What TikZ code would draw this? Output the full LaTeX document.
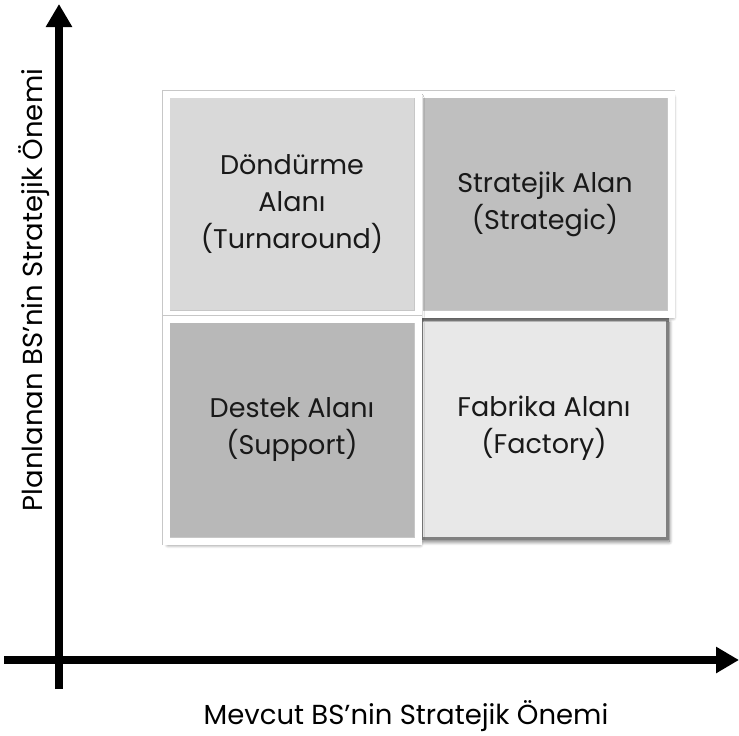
\documentclass[tikz,border=0pt]{standalone}
\usepackage{fontspec}
\setmainfont{Poppins}
\usetikzlibrary{shadows.blur,arrows.meta}
\tikzstyle{area}=[rectangle, draw=black!22, line width=0.7pt, double=white, double distance=7pt, align=center, text=black!90, font=\fontsize{27}{37}\selectfont, blur shadow={shadow blur steps=8, shadow xshift=2pt, shadow yshift=-3.5pt, shadow opacity=60, shadow blur radius=4pt}]
\tikzstyle{axis}=[-{Triangle[length=23pt,width=25pt]}, line width=8pt, draw=black]
\tikzstyle{axislabel}=[font=\fontsize{27.5}{30}\selectfont, text=black]

\begin{document}
\begin{tikzpicture}[x=1pt,y=-1pt]
    \useasboundingbox (0,0) rectangle (739,736);
    % axes
    \coordinate (xstart) at (4,660);
    \coordinate (xend) at (739,660);
    \coordinate (ystart) at (59,689);
    \coordinate (yend) at (59,4);
    \draw [style=axis] (xstart) to (xend);
    \draw [style=axis] (ystart) to (yend);
    \node [style=axislabel] (xlabel) at (406,716) {Mevcut BS’nin Stratejik Önemi};
    \node [style=axislabel, rotate=90] (ylabel) at (34,290) {Planlanan BS’nin Stratejik Önemi};
    % the four areas
    \node [style=area, fill=black!9, draw=black!50, double=none, line width=3pt, minimum width=246pt, minimum height=219pt] (factory) at (544,428.5) {Fabrika Alanı\\(Factory)};
    \node [style=area, fill=black!25, minimum width=252pt, minimum height=220pt] (strategic) at (545,204) {Stratejik Alan\\(Strategic)};
    \node [style=area, fill=black!15, minimum width=252pt, minimum height=220pt] (turnaround) at (292,204) {Döndürme\\Alanı\\(Turnaround)};
    \node [style=area, fill=black!28, minimum width=252pt, minimum height=222pt] (support) at (292,430) {Destek Alanı\\(Support)};
\end{tikzpicture}
\end{document}
